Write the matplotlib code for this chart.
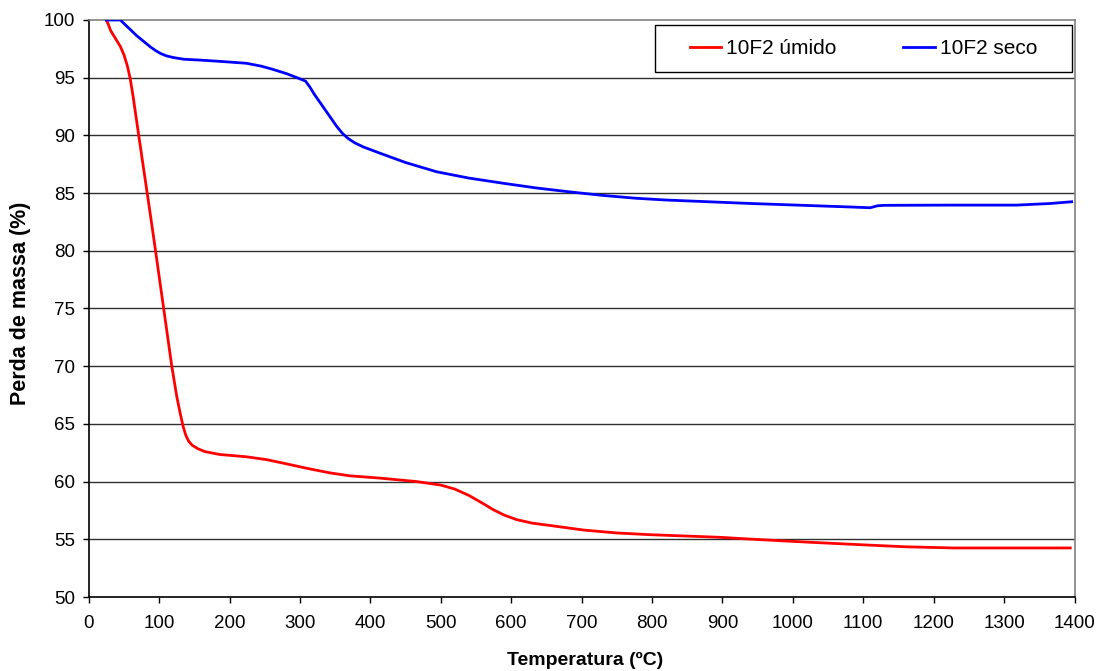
import matplotlib
matplotlib.use("Agg")
import matplotlib.pyplot as plt
from matplotlib.patches import Rectangle

plt.rcParams["font.family"] = ["Liberation Sans", "DejaVu Sans"]

# 10F2 úmido (red)
temp_umido = [25, 28, 31, 35, 40, 45, 50, 55, 59, 63, 67, 72, 78, 85, 94, 106,
              118, 125, 130, 134, 138, 142, 147, 155, 165, 186, 224, 253, 280,
              310, 343, 371, 414, 466, 500, 520, 540, 560, 575, 590, 608, 630,
              655, 703, 750, 797, 850, 897, 939, 990, 1039, 1100, 1160, 1228,
              1300, 1394]
massa_umido = [100.0, 99.6, 99.1, 98.7, 98.2, 97.7, 97.0, 96.0, 94.9, 93.4,
               91.7, 89.6, 87.1, 84.2, 80.4, 75.2, 70.0, 67.4, 65.9, 64.8,
               64.0, 63.5, 63.15, 62.85, 62.6, 62.35, 62.15, 61.9, 61.55,
               61.15, 60.75, 60.5, 60.3, 60.0, 59.7, 59.35, 58.8, 58.1, 57.55,
               57.1, 56.7, 56.4, 56.2, 55.8, 55.55, 55.4, 55.28, 55.17, 55.02,
               54.85, 54.7, 54.52, 54.35, 54.25, 54.25, 54.25]

# 10F2 seco (blue)
temp_seco = [25, 45, 50, 56, 62, 68, 75, 82, 88, 95, 102, 110, 120, 135, 160,
             190, 224, 245, 260, 281, 298, 308, 314, 320, 328, 336, 344, 352,
             360, 368, 378, 390, 414, 450, 494, 540, 589, 635, 684, 730, 778,
             820, 868, 940, 1010, 1080, 1110, 1120, 1130, 1224, 1318, 1366,
             1396]
massa_seco = [100.0, 100.0, 99.7, 99.35, 99.0, 98.65, 98.3, 97.95, 97.65,
              97.35, 97.1, 96.9, 96.75, 96.6, 96.52, 96.4, 96.25, 96.0, 95.75,
              95.35, 94.95, 94.7, 94.2, 93.6, 92.9, 92.2, 91.5, 90.8, 90.2,
              89.75, 89.35, 89.0, 88.45, 87.65, 86.85, 86.3, 85.85, 85.45,
              85.1, 84.8, 84.55, 84.4, 84.28, 84.1, 83.95, 83.8, 83.73, 83.9,
              83.94, 83.96, 83.96, 84.1, 84.25]

x_ticks = list(range(0, 1401, 100))
y_ticks = list(range(50, 101, 5))

W, H = 1097, 671
fig = plt.figure(figsize=(W / 100, H / 100), dpi=100)
ax = fig.add_axes([88.7 / W, 1 - 597 / H, (1074.5 - 88.7) / W, (597 - 20) / H])

for y in y_ticks[1:-1]:
    ax.axhline(y, color="#303030", lw=1.0, zorder=1)

ax.plot(temp_umido, massa_umido, color="#ff0000", lw=2.0, label="10F2 úmido",
        zorder=3, solid_joinstyle="round")
ax.plot(temp_seco, massa_seco, color="#0000ff", lw=2.0, label="10F2 seco",
        zorder=3, solid_joinstyle="round")

ax.set_xlim(0, 1400)
ax.set_ylim(50, 100)
ax.set_xticks(x_ticks)
ax.set_yticks(y_ticks)
ax.tick_params(axis="both", labelsize=13.5, direction="out", length=4,
               width=1, color="black")
ax.tick_params(axis="y", pad=6)
ax.tick_params(axis="x", pad=9)

for side in ("left", "bottom"):
    ax.spines[side].set_color("black")
    ax.spines[side].set_linewidth(1.2)
for side in ("top", "right"):
    ax.spines[side].set_color("#808080")
    ax.spines[side].set_linewidth(1.2)

fig.text(21 / W, 1 - 303 / H, "Perda de massa (%)", rotation=90,
         ha="center", va="center", fontsize=15.5, fontweight="bold")
fig.text(585 / W, 1 - 660 / H, "Temperatura (ºC)", ha="center", va="center",
         fontsize=14, fontweight="bold")

# legend box
ax.add_patch(Rectangle((655 / W, 1 - 72 / H), (1072 - 655) / W, (72 - 25) / H,
                       transform=fig.transFigure, clip_on=False,
                       facecolor="white", edgecolor="black", lw=1.0, zorder=4))
leg = ax.legend(loc="center", bbox_to_anchor=((655 + 1072) / 2 / W, 1 - 48.5 / H),
                bbox_transform=fig.transFigure, ncol=2, frameon=False,
                fontsize=15, handlelength=1.5, handletextpad=0.25,
                columnspacing=3.2)
leg.set_zorder(5)

fig.savefig("out.png", dpi=100)
plt.close(fig)
